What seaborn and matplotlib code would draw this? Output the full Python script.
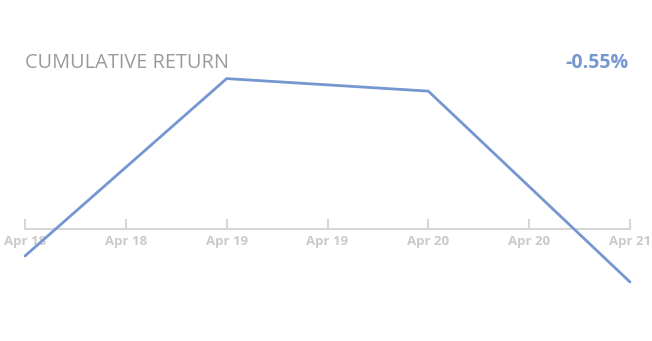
import matplotlib
matplotlib.use("Agg")
import matplotlib.pyplot as plt
import matplotlib.dates as mdates
import seaborn as sns
import pandas as pd

dates = ["2024-04-18", "2024-04-19", "2024-04-20", "2024-04-21"]
returns = [-0.28, 1.56, 1.43, -0.55]
tick_times = ["2024-04-18 00:00", "2024-04-18 12:00", "2024-04-19 00:00", "2024-04-19 12:00",
              "2024-04-20 00:00", "2024-04-20 12:00", "2024-04-21 00:00"]
tick_labels = ["Apr 18", "Apr 18", "Apr 19", "Apr 19", "Apr 20", "Apr 20", "Apr 21"]
title = "CUMULATIVE RETURN"
total_label = "-0.55%"

sns.set_theme(style="white")
plt.rcParams["font.family"] = ["Open Sans", "DejaVu Sans"]

df = pd.DataFrame({"date": pd.to_datetime(dates), "ret": returns})

fig = plt.figure(figsize=(6.52, 3.41), dpi=100)
W, H = 652, 341
ax = fig.add_axes([25 / W, 1 - 300 / H, (630 - 25) / W, 240 / H])
sns.lineplot(data=df, x="date", y="ret", ax=ax, color="#7596d0", linewidth=2)

ax.set_xlim(df["date"].iloc[0], df["date"].iloc[-1])
ax.set_ylim(-0.737, 1.753)
ax.set_xlabel("")
ax.set_ylabel("")
ax.set_yticks([])
ax.set_xticks(pd.to_datetime(tick_times))
ax.set_xticklabels(tick_labels)
for s in ["top", "right", "left"]:
    ax.spines[s].set_visible(False)
ax.spines["bottom"].set_position(("data", 0))
ax.spines["bottom"].set_color("#d6d6d6")
ax.spines["bottom"].set_linewidth(1.5)
ax.spines["bottom"].set_zorder(0)
ax.tick_params(axis="x", direction="in", length=7, width=1.5, color="#d6d6d6",
               pad=4, labelsize=9.5, labelcolor="#cacaca", bottom=True)
for lab in ax.get_xticklabels():
    lab.set_fontweight("bold")
ax.set_clip_on(False)
for line in ax.lines:
    line.set_clip_on(False)
    line.set_zorder(3)

fig.text(25 / W, 1 - 63 / H, title, ha="left", va="center", fontsize=14.3,
         color="#9a9a9a")
fig.text(628 / W, 1 - 63 / H, total_label, ha="right", va="center", fontsize=14,
         color="#7596d0", fontweight="bold")

fig.savefig("out.png", dpi=100, facecolor="white")
